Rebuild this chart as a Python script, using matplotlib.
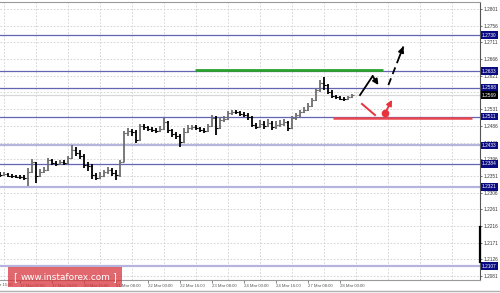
import numpy as np
import matplotlib.pyplot as plt
from matplotlib.patches import Rectangle
from matplotlib.lines import Line2D
import matplotlib.transforms as mtransforms

# 2-hour bars, prices
first_open = 1.2356
close = [1.2353, 1.2356, 1.2351, 1.2351, 1.2348, 1.2348, 1.2345, 1.2361, 1.2388, 1.2351,
         1.2361, 1.2367, 1.2394, 1.2386, 1.2383, 1.2388, 1.2386, 1.2399, 1.2421, 1.2413,
         1.2405, 1.2380, 1.2378, 1.2353, 1.2345, 1.2351, 1.2361, 1.2367, 1.2359, 1.2353,
         1.2388, 1.2466, 1.2472, 1.2469, 1.2448, 1.2485, 1.2483, 1.2477, 1.2475, 1.2472,
         1.2477, 1.2496, 1.2475, 1.2464, 1.2458, 1.2442, 1.2469, 1.2480, 1.2483, 1.2480,
         1.2475, 1.2472, 1.2485, 1.2507, 1.2480, 1.2502, 1.2504, 1.2521, 1.2523, 1.2523,
         1.2518, 1.2515, 1.2510, 1.2488, 1.2483, 1.2491, 1.2485, 1.2493, 1.2483, 1.2488,
         1.2491, 1.2496, 1.2480, 1.2507, 1.2515, 1.2523, 1.2529, 1.2539, 1.2556, 1.2583,
         1.2601, 1.2596, 1.2577, 1.2566, 1.2564, 1.2558, 1.2558, 1.2564, 1.2569]
high = [1.2361, 1.2361, 1.2359, 1.2356, 1.2353, 1.2353, 1.2353, 1.2372, 1.2396, 1.2388,
        1.2369, 1.2375, 1.2399, 1.2396, 1.2391, 1.2394, 1.2394, 1.2405, 1.2434, 1.2429,
        1.2421, 1.2410, 1.2388, 1.2383, 1.2359, 1.2361, 1.2367, 1.2375, 1.2372, 1.2367,
        1.2394, 1.2472, 1.2480, 1.2477, 1.2475, 1.2491, 1.2491, 1.2485, 1.2483, 1.2480,
        1.2485, 1.2507, 1.2499, 1.2477, 1.2469, 1.2464, 1.2480, 1.2488, 1.2488, 1.2488,
        1.2483, 1.2480, 1.2491, 1.2515, 1.2512, 1.2510, 1.2512, 1.2526, 1.2529, 1.2529,
        1.2526, 1.2523, 1.2521, 1.2512, 1.2493, 1.2502, 1.2499, 1.2504, 1.2499, 1.2499,
        1.2502, 1.2504, 1.2499, 1.2512, 1.2521, 1.2529, 1.2537, 1.2547, 1.2561, 1.2588,
        1.2610, 1.2618, 1.2599, 1.2583, 1.2569, 1.2566, 1.2564, 1.2566, 1.2572]
low = [1.2348, 1.2351, 1.2348, 1.2345, 1.2345, 1.2342, 1.2340, 1.2324, 1.2359, 1.2332,
       1.2348, 1.2359, 1.2364, 1.2380, 1.2378, 1.2380, 1.2380, 1.2383, 1.2396, 1.2405,
       1.2396, 1.2372, 1.2364, 1.2342, 1.2340, 1.2342, 1.2348, 1.2356, 1.2351, 1.2340,
       1.2348, 1.2388, 1.2458, 1.2458, 1.2440, 1.2445, 1.2475, 1.2472, 1.2469, 1.2466,
       1.2469, 1.2475, 1.2466, 1.2456, 1.2450, 1.2429, 1.2440, 1.2466, 1.2475, 1.2475,
       1.2469, 1.2466, 1.2469, 1.2483, 1.2461, 1.2477, 1.2496, 1.2502, 1.2515, 1.2518,
       1.2512, 1.2510, 1.2502, 1.2483, 1.2477, 1.2480, 1.2477, 1.2483, 1.2475, 1.2477,
       1.2483, 1.2485, 1.2472, 1.2477, 1.2502, 1.2510, 1.2521, 1.2526, 1.2537, 1.2553,
       1.2577, 1.2583, 1.2572, 1.2561, 1.2558, 1.2556, 1.2553, 1.2556, 1.2561]

# time axis in hours from the first bar
x_labels = ["16 Mar 15:00", "17 Mar 07:00", "17 Mar 23:00", "20 Mar 15:00", "21 Mar 08:00",
            "22 Mar 00:00", "22 Mar 16:00", "23 Mar 08:00", "24 Mar 00:00", "24 Mar 16:00",
            "27 Mar 08:00", "28 Mar 00:00"]
x_label_hours = [-6, 10, 26, 42, 58, 74, 90, 106, 122, 138, 154, 170]
y_ticks = [1.2801, 1.2756, 1.2711, 1.2666, 1.2621, 1.2576, 1.2531, 1.2486, 1.2441,
           1.2396, 1.2351, 1.2306, 1.2261, 1.2216, 1.2171, 1.2126, 1.2081]

dark_levels = [1.2730, 1.2633, 1.2588, 1.2511, 1.2384]
light_levels = [1.2433, 1.2321, 1.2107]
current_price = 1.2569

green_level = 1.2636
green_hours = [97.5, 191.5]
red_level = 1.2506
red_hours = [166.5, 236]

# forecast drawings (hour, price)
up_zig_h = [180, 186.3, 189.2]
up_zig_p = [1.2569, 1.2620, 1.2596]
up_dash_h = [194.2, 201.7]
up_dash_p = [1.2596, 1.2700]
down_h = [181, 187.5]
down_p = [1.2545, 1.2515]
pullback_h = [192.5, 196]
pullback_p = [1.2520, 1.2556]

W, H = 500, 293
FONT = ['Liberation Sans', 'DejaVu Sans']
fig = plt.figure(figsize=(W / 100, H / 100), dpi=100)
fig.patch.set_facecolor('white')
ax = fig.add_axes([0, 1 - 280 / H, 480 / W, 278 / H])
ax.set_xlim(0, 240)
ax.set_ylim(1.20702, 1.28199)

# grid
ax.set_yticks(y_ticks)
ax.set_xticks(np.arange(2, 240, 16), minor=True)
ax.grid(which='major', axis='y', color='#cfcfcf', lw=0.6, ls=(0, (2, 2)))
ax.grid(which='minor', axis='x', color='#cfcfcf', lw=0.6, ls=(0, (2, 2)))

# support / resistance levels
for lv in dark_levels:
    ax.axhline(lv, color='#6464b4', lw=0.9, zorder=2)
for lv in light_levels:
    ax.axhline(lv, color='#b4b4dc', lw=1.6, zorder=2)
ax.axhline(current_price, color='#d8d8d8', lw=0.9, zorder=2)

# price bars
pos = np.arange(len(close)) * 2
opens = [first_open] + close[:-1]
cols = ['#6e6e6e' if c > o else 'black' for o, c in zip(opens, close)]
ax.vlines(pos, low, high, colors=cols, lw=1.3, zorder=3)
ax.hlines(opens, pos - 0.9, pos, colors=cols, lw=0.8, zorder=3)
ax.hlines(close, pos, pos + 0.9, colors=cols, lw=0.8, zorder=3)

# green and red lines
ax.plot(green_hours, [green_level] * 2, color='#2ca02c', lw=2.0, solid_capstyle='butt', zorder=4)
ax.plot(red_hours, [red_level] * 2, color='#e8474f', lw=1.8, solid_capstyle='butt', zorder=4)

# forecast arrows
ax.plot(up_zig_h[:2], up_zig_p[:2], color='black', lw=1.3, zorder=5)
ax.annotate('', xy=(up_zig_h[2], up_zig_p[2]), xytext=(up_zig_h[1], up_zig_p[1]),
            arrowprops=dict(arrowstyle='-|>', color='black', lw=1.3, mutation_scale=8,
                            shrinkA=0, shrinkB=0), zorder=5)
ax.plot(up_dash_h, up_dash_p, color='black', lw=1.3, ls=(0, (4, 2.5)), zorder=5)
mid_h = up_dash_h[0] + 0.75 * (up_dash_h[1] - up_dash_h[0])
mid_p = up_dash_p[0] + 0.75 * (up_dash_p[1] - up_dash_p[0])
ax.annotate('', xy=(up_dash_h[1], up_dash_p[1]), xytext=(mid_h, mid_p),
            arrowprops=dict(arrowstyle='-|>', color='black', lw=1.3, mutation_scale=8,
                            shrinkA=0, shrinkB=0), zorder=5)
ax.plot(down_h, down_p, color='#e8323c', lw=1.4, zorder=5)
ax.plot(pullback_h[0], pullback_p[0], 'o', color='#e8323c', ms=4.5, zorder=5)
ax.annotate('', xy=(pullback_h[1], pullback_p[1]), xytext=(pullback_h[0], pullback_p[0]),
            arrowprops=dict(arrowstyle='-|>', color='#e8323c', lw=1.3, mutation_scale=8,
                            shrinkA=0, shrinkB=0), zorder=5)

# axes look
ax.spines['left'].set_visible(False)
ax.spines['right'].set_color('#555555')
ax.spines['top'].set_color('#9a9a9a')
ax.spines['bottom'].set_color('#9a9a9a')
for s in ax.spines.values():
    s.set_linewidth(0.8)
ax.yaxis.tick_right()
ax.set_yticklabels([f'{v:.4f}' for v in y_ticks], family=FONT)
ax.tick_params(axis='y', which='major', labelsize=3.4, length=1.5, pad=0.8,
               colors='#333333', width=0.5)
ax.set_xticks(x_label_hours[1:])
ax.set_xticklabels(x_labels[1:], ha='left', family=FONT)
ax.tick_params(axis='x', which='major', labelsize=3.1, length=2, pad=1,
               colors='#555555', width=0.5)
ax.tick_params(which='minor', length=0)
ax.text(x_label_hours[0], -0.012, x_labels[0], transform=mtransforms.blended_transform_factory(
    ax.transData, ax.transAxes), fontsize=3.1, family=FONT, color='#555555',
    va='top', ha='left', clip_on=False)

# level boxes on the price scale
trans = mtransforms.blended_transform_factory(ax.transAxes, ax.transData)
for lv in dark_levels + light_levels:
    ax.text(1.004, lv, f'{lv:.4f}', transform=trans, fontsize=3.4, family=FONT, color='white',
            va='center', ha='left', clip_on=False, zorder=10,
            bbox=dict(boxstyle='square,pad=0.3', fc='#0a0a82', ec='none'))
ax.text(1.004, current_price, f'{current_price:.4f}', transform=trans, fontsize=3.4,
        family=FONT, color='white', va='center', ha='left', clip_on=False, zorder=10,
        bbox=dict(boxstyle='square,pad=0.3', fc='black', ec='none'))

# scroll marker on the scale and bottom frame line
fig.add_artist(Line2D([479.5 / W] * 2, [1 - 227 / H, 1 - 262 / H], color='black', lw=1.6))
fig.add_artist(Line2D([0, 1], [1 - 290.5 / H] * 2, color='#b0b0b0', lw=1.0))

# logo
fig.add_artist(Rectangle((8 / W, 1 - 287 / H), 114 / W, 20 / H, transform=fig.transFigure,
                         facecolor='#d8353d', alpha=0.75, edgecolor='none'))
fig.text(15 / W, 1 - 277 / H, '[', color='white', fontsize=7, ha='center', va='center')
fig.text(114 / W, 1 - 277 / H, ']', color='white', fontsize=7, ha='center', va='center')
fig.text(66 / W, 1 - 277 / H, 'www.instaforex.com', color='white', fontsize=6.4,
         ha='center', va='center')

fig.savefig('out.png', dpi=100)
